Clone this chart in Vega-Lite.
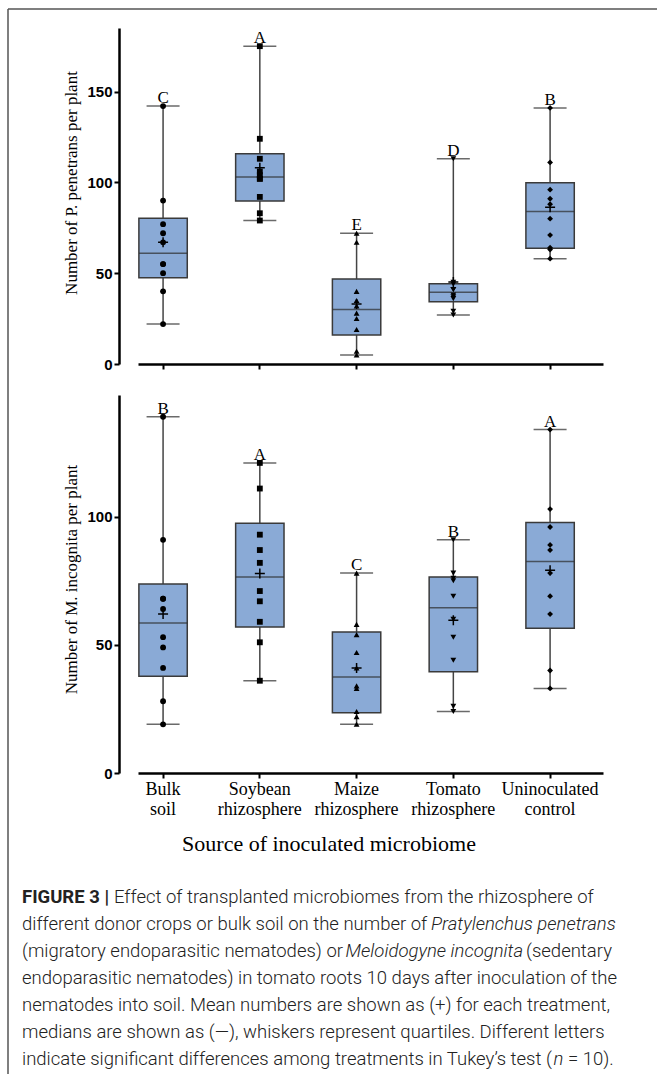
{
  "$schema": "https://vega.github.io/schema/vega-lite/v6.json",
  "width": 649,
  "height": 1065,
  "autosize": {"type": "none"},
  "padding": {"left": 8, "top": 9, "right": 0, "bottom": 0},
  "background": "white",
  "config": {
    "view": {"stroke": null},
    "axis": {"grid": false, "domainColor": "#000", "domainWidth": 2.5, "tickColor": "#000", "tickWidth": 2, "tickSize": 5, "labelColor": "#000", "titleColor": "#000"}
  },
  "datasets": {
    "statsP": [
      {"group": "Bulk soil", "min": 22, "q1": 47.5, "median": 61, "q3": 80.25, "max": 142, "mean": 67, "letter": "C"},
      {"group": "Soybean rhizosphere", "min": 79, "q1": 89.75, "median": 103, "q3": 115.75, "max": 175, "mean": 108, "letter": "A"},
      {"group": "Maize rhizosphere", "min": 5, "q1": 16, "median": 30, "q3": 46.75, "max": 72, "mean": 33, "letter": "E"},
      {"group": "Tomato rhizosphere", "min": 27, "q1": 34.25, "median": 39.5, "q3": 44.25, "max": 113, "mean": 45.1, "letter": "D"},
      {"group": "Uninoculated control", "min": 58, "q1": 63.75, "median": 84, "q3": 99.75, "max": 141, "mean": 86.3, "letter": "B"}
    ],
    "statsM": [
      {"group": "Bulk soil", "min": 19, "q1": 37.75, "median": 58.5, "q3": 73.75, "max": 139, "mean": 62, "letter": "B"},
      {"group": "Soybean rhizosphere", "min": 36, "q1": 57, "median": 76.5, "q3": 97.5, "max": 121, "mean": 77.8, "letter": "A"},
      {"group": "Maize rhizosphere", "min": 19, "q1": 23.5, "median": 37.5, "q3": 55, "max": 78, "mean": 41, "letter": "C"},
      {"group": "Tomato rhizosphere", "min": 24, "q1": 39.5, "median": 64.5, "q3": 76.5, "max": 91, "mean": 59.6, "letter": "B"},
      {"group": "Uninoculated control", "min": 33, "q1": 56.5, "median": 82.5, "q3": 97.75, "max": 134, "mean": 79.1, "letter": "A"}
    ],
    "ptsP": [
      {"group": "Bulk soil", "value": 142}, {"group": "Bulk soil", "value": 90}, {"group": "Bulk soil", "value": 77}, {"group": "Bulk soil", "value": 72}, {"group": "Bulk soil", "value": 67},
      {"group": "Bulk soil", "value": 55}, {"group": "Bulk soil", "value": 55}, {"group": "Bulk soil", "value": 50}, {"group": "Bulk soil", "value": 40}, {"group": "Bulk soil", "value": 22},
      {"group": "Soybean rhizosphere", "value": 175}, {"group": "Soybean rhizosphere", "value": 124}, {"group": "Soybean rhizosphere", "value": 113}, {"group": "Soybean rhizosphere", "value": 106}, {"group": "Soybean rhizosphere", "value": 104},
      {"group": "Soybean rhizosphere", "value": 102}, {"group": "Soybean rhizosphere", "value": 102}, {"group": "Soybean rhizosphere", "value": 92}, {"group": "Soybean rhizosphere", "value": 83}, {"group": "Soybean rhizosphere", "value": 79},
      {"group": "Maize rhizosphere", "value": 72}, {"group": "Maize rhizosphere", "value": 67}, {"group": "Maize rhizosphere", "value": 40}, {"group": "Maize rhizosphere", "value": 35}, {"group": "Maize rhizosphere", "value": 32},
      {"group": "Maize rhizosphere", "value": 28}, {"group": "Maize rhizosphere", "value": 25}, {"group": "Maize rhizosphere", "value": 19}, {"group": "Maize rhizosphere", "value": 7}, {"group": "Maize rhizosphere", "value": 5},
      {"group": "Tomato rhizosphere", "value": 113}, {"group": "Tomato rhizosphere", "value": 45}, {"group": "Tomato rhizosphere", "value": 44}, {"group": "Tomato rhizosphere", "value": 41}, {"group": "Tomato rhizosphere", "value": 41},
      {"group": "Tomato rhizosphere", "value": 38}, {"group": "Tomato rhizosphere", "value": 37}, {"group": "Tomato rhizosphere", "value": 36}, {"group": "Tomato rhizosphere", "value": 29}, {"group": "Tomato rhizosphere", "value": 27},
      {"group": "Uninoculated control", "value": 141}, {"group": "Uninoculated control", "value": 111}, {"group": "Uninoculated control", "value": 96}, {"group": "Uninoculated control", "value": 91}, {"group": "Uninoculated control", "value": 88},
      {"group": "Uninoculated control", "value": 80}, {"group": "Uninoculated control", "value": 71}, {"group": "Uninoculated control", "value": 64}, {"group": "Uninoculated control", "value": 63}, {"group": "Uninoculated control", "value": 58}
    ],
    "ptsM": [
      {"group": "Bulk soil", "value": 139}, {"group": "Bulk soil", "value": 91}, {"group": "Bulk soil", "value": 68}, {"group": "Bulk soil", "value": 68}, {"group": "Bulk soil", "value": 64},
      {"group": "Bulk soil", "value": 53}, {"group": "Bulk soil", "value": 49}, {"group": "Bulk soil", "value": 41}, {"group": "Bulk soil", "value": 28}, {"group": "Bulk soil", "value": 19},
      {"group": "Soybean rhizosphere", "value": 121}, {"group": "Soybean rhizosphere", "value": 111}, {"group": "Soybean rhizosphere", "value": 93}, {"group": "Soybean rhizosphere", "value": 87}, {"group": "Soybean rhizosphere", "value": 82},
      {"group": "Soybean rhizosphere", "value": 71}, {"group": "Soybean rhizosphere", "value": 67}, {"group": "Soybean rhizosphere", "value": 59}, {"group": "Soybean rhizosphere", "value": 51}, {"group": "Soybean rhizosphere", "value": 36},
      {"group": "Maize rhizosphere", "value": 78}, {"group": "Maize rhizosphere", "value": 58}, {"group": "Maize rhizosphere", "value": 54}, {"group": "Maize rhizosphere", "value": 47}, {"group": "Maize rhizosphere", "value": 41},
      {"group": "Maize rhizosphere", "value": 34}, {"group": "Maize rhizosphere", "value": 33}, {"group": "Maize rhizosphere", "value": 24}, {"group": "Maize rhizosphere", "value": 22}, {"group": "Maize rhizosphere", "value": 19},
      {"group": "Tomato rhizosphere", "value": 91}, {"group": "Tomato rhizosphere", "value": 78}, {"group": "Tomato rhizosphere", "value": 76}, {"group": "Tomato rhizosphere", "value": 75}, {"group": "Tomato rhizosphere", "value": 69},
      {"group": "Tomato rhizosphere", "value": 60}, {"group": "Tomato rhizosphere", "value": 53}, {"group": "Tomato rhizosphere", "value": 44}, {"group": "Tomato rhizosphere", "value": 26}, {"group": "Tomato rhizosphere", "value": 24},
      {"group": "Uninoculated control", "value": 134}, {"group": "Uninoculated control", "value": 103}, {"group": "Uninoculated control", "value": 96}, {"group": "Uninoculated control", "value": 89}, {"group": "Uninoculated control", "value": 87},
      {"group": "Uninoculated control", "value": 78}, {"group": "Uninoculated control", "value": 69}, {"group": "Uninoculated control", "value": 62}, {"group": "Uninoculated control", "value": 40}, {"group": "Uninoculated control", "value": 33}
    ],
    "capHead": [{"line": 1, "text": "FIGURE 3 |"}],
    "capL1": [{"line": 1, "text": "Effect of transplanted microbiomes from the rhizosphere of"}],
    "capRest": [
      {"line": 2, "text": "different donor crops or bulk soil on the number of"},
      {"line": 3, "text": "(migratory endoparasitic nematodes) or"},
      {"line": 4, "text": "endoparasitic nematodes) in tomato roots 10 days after inoculation of the"},
      {"line": 5, "text": "nematodes into soil. Mean numbers are shown as (+) for each treatment,"},
      {"line": 6, "text": "medians are shown as (—), whiskers represent quartiles. Different letters"},
      {"line": 7, "text": "indicate significant differences among treatments in Tukey’s test ("}
    ],
    "capIt2": [{"line": 2, "text": "Pratylenchus penetrans"}],
    "capIt3": [{"line": 3, "text": "Meloidogyne incognita"}],
    "capTail3": [{"line": 3, "text": "(sedentary"}],
    "capIt7": [{"line": 7, "text": "n"}],
    "capTail7": [{"line": 7, "text": "= 10)."}]
  },
  "layer": [
    {
      "data": {"values": [{}]},
      "layer": [
        {"mark": {"type": "rule", "color": "#555", "strokeWidth": 1.5},
         "encoding": {"x": {"datum": 0, "type": "quantitative", "scale": {"domain": [0, 1]}, "axis": null}}},
        {"mark": {"type": "rule", "color": "#555", "strokeWidth": 1.5},
         "encoding": {"y": {"datum": 1, "type": "quantitative", "scale": {"domain": [0, 1]}, "axis": null}}}
      ]
    },
    {
      "data": {"name": "statsP"},
      "encoding": {
        "x": {"field": "group", "type": "nominal",
              "scale": {"domain": ["Bulk soil", "Soybean rhizosphere", "Maize rhizosphere", "Tomato rhizosphere", "Uninoculated control"], "range": [130, 595], "paddingInner": 0.5, "paddingOuter": 0.153, "align": 0.03},
              "axis": {"orient": "bottom", "offset": -710, "labels": false, "title": null}}
      },
      "layer": [
        {"mark": {"type": "rule", "color": "#444", "strokeWidth": 1.5},
         "encoding": {
           "y": {"field": "min", "type": "quantitative", "scale": {"domain": [0, 185], "range": [355, 19], "nice": false, "zero": true},
                 "axis": {"orient": "left", "offset": -111, "values": [0, 50, 100, 150], "title": "Number of P. penetrans per plant", "titleFont": "Liberation Serif", "titleFontSize": 17, "titleFontWeight": "normal", "titleY": 173.5, "titlePadding": 6, "labelFont": "Liberation Sans", "labelFontWeight": "bold", "labelFontSize": 15, "labelPadding": 2}},
           "y2": {"field": "max"}}},
        {"mark": {"type": "bar", "fill": "#8aaad6", "stroke": "#3a3a3a", "strokeWidth": 1.5},
         "encoding": {"y": {"field": "q1", "type": "quantitative"}, "y2": {"field": "q3"}}},
        {"mark": {"type": "tick", "color": "#2b2b2b", "thickness": 1.5, "size": 48},
         "encoding": {"y": {"field": "median", "type": "quantitative"}}},
        {"mark": {"type": "tick", "color": "#2b2b2b", "thickness": 1.5, "size": 33},
         "encoding": {"y": {"field": "min", "type": "quantitative"}}},
        {"mark": {"type": "tick", "color": "#2b2b2b", "thickness": 1.5, "size": 33},
         "encoding": {"y": {"field": "max", "type": "quantitative"}}},
        {"data": {"name": "ptsP"},
         "mark": {"type": "point", "filled": true, "color": "#000", "size": 34, "opacity": 1},
         "encoding": {"y": {"field": "value", "type": "quantitative"},
                      "shape": {"field": "group", "type": "nominal", "scale": {"domain": ["Bulk soil", "Soybean rhizosphere", "Maize rhizosphere", "Tomato rhizosphere", "Uninoculated control"], "range": ["circle", "square", "triangle-up", "triangle-down", "diamond"]}, "legend": null}}},
        {"mark": {"type": "point", "shape": "M-1,0H1M0,-1V1", "filled": false, "stroke": "#000", "strokeWidth": 1.5, "size": 100, "opacity": 1},
         "encoding": {"y": {"field": "mean", "type": "quantitative"}}},
        {"mark": {"type": "text", "font": "Liberation Serif", "fontSize": 17, "baseline": "alphabetic", "dy": -3, "color": "#000"},
         "encoding": {"y": {"field": "max", "type": "quantitative"}, "text": {"field": "letter"}}}
      ]
    },
    {
      "data": {"name": "statsM"},
      "encoding": {
        "x": {"field": "group", "type": "nominal",
              "scale": {"domain": ["Bulk soil", "Soybean rhizosphere", "Maize rhizosphere", "Tomato rhizosphere", "Uninoculated control"], "range": [130, 595], "paddingInner": 0.5, "paddingOuter": 0.153, "align": 0.03},
              "axis": {"orient": "bottom", "offset": -301, "labelExpr": "split(datum.label, ' ')", "labelAngle": 0, "labelFont": "Liberation Serif", "labelFontSize": 18, "labelLineHeight": 20, "labelPadding": 2,
                       "title": "Source of inoculated microbiome", "titleFont": "Liberation Serif", "titleFontSize": 22, "titleFontWeight": "normal", "titleX": 320.5, "titlePadding": 15}}
      },
      "layer": [
        {"mark": {"type": "rule", "color": "#444", "strokeWidth": 1.5},
         "encoding": {
           "y": {"field": "min", "type": "quantitative", "scale": {"domain": [0, 147.5], "range": [764, 386], "nice": false, "zero": true},
                 "axis": {"orient": "left", "offset": -111, "values": [0, 50, 100], "title": "Number of M. incognita per plant", "titleFont": "Liberation Serif", "titleFontSize": 17, "titleFontWeight": "normal", "titleY": 570, "titlePadding": 6, "labelFont": "Liberation Sans", "labelFontWeight": "bold", "labelFontSize": 15, "labelPadding": 2}},
           "y2": {"field": "max"}}},
        {"mark": {"type": "bar", "fill": "#8aaad6", "stroke": "#3a3a3a", "strokeWidth": 1.5},
         "encoding": {"y": {"field": "q1", "type": "quantitative"}, "y2": {"field": "q3"}}},
        {"mark": {"type": "tick", "color": "#2b2b2b", "thickness": 1.5, "size": 48},
         "encoding": {"y": {"field": "median", "type": "quantitative"}}},
        {"mark": {"type": "tick", "color": "#2b2b2b", "thickness": 1.5, "size": 33},
         "encoding": {"y": {"field": "min", "type": "quantitative"}}},
        {"mark": {"type": "tick", "color": "#2b2b2b", "thickness": 1.5, "size": 33},
         "encoding": {"y": {"field": "max", "type": "quantitative"}}},
        {"data": {"name": "ptsM"},
         "mark": {"type": "point", "filled": true, "color": "#000", "size": 34, "opacity": 1},
         "encoding": {"y": {"field": "value", "type": "quantitative"},
                      "shape": {"field": "group", "type": "nominal", "scale": {"domain": ["Bulk soil", "Soybean rhizosphere", "Maize rhizosphere", "Tomato rhizosphere", "Uninoculated control"], "range": ["circle", "square", "triangle-up", "triangle-down", "diamond"]}, "legend": null}}},
        {"mark": {"type": "point", "shape": "M-1,0H1M0,-1V1", "filled": false, "stroke": "#000", "strokeWidth": 1.5, "size": 100, "opacity": 1},
         "encoding": {"y": {"field": "mean", "type": "quantitative"}}},
        {"mark": {"type": "text", "font": "Liberation Serif", "fontSize": 17, "baseline": "alphabetic", "dy": -3, "color": "#000"},
         "encoding": {"y": {"field": "max", "type": "quantitative"}, "text": {"field": "letter"}}}
      ]
    },
    {
      "encoding": {
        "x": {"datum": 0, "type": "quantitative", "scale": {"domain": [0, 1], "range": [14, 614]}, "axis": null},
        "y": {"field": "line", "type": "quantitative", "scale": {"domain": [1, 7], "range": [894, 1056]}, "axis": null},
        "text": {"field": "text"}
      },
      "layer": [
        {"data": {"name": "capHead"},
         "mark": {"type": "text", "align": "left", "baseline": "alphabetic", "font": "Roboto", "fontWeight": "bold", "fontSize": 18.5, "color": "#222"}},
        {"data": {"name": "capL1"},
         "mark": {"type": "text", "align": "left", "baseline": "alphabetic", "font": "Roboto", "fontWeight": 300, "fontSize": 18.5, "color": "#222", "dx": 92}},
        {"data": {"name": "capRest"},
         "mark": {"type": "text", "align": "left", "baseline": "alphabetic", "font": "Roboto", "fontWeight": 300, "fontSize": 18.5, "color": "#222"}},
        {"data": {"name": "capIt2"},
         "mark": {"type": "text", "align": "left", "baseline": "alphabetic", "font": "Roboto", "fontWeight": 300, "fontStyle": "italic", "fontSize": 18.5, "color": "#222", "dx": 409}},
        {"data": {"name": "capIt3"},
         "mark": {"type": "text", "align": "left", "baseline": "alphabetic", "font": "Roboto", "fontWeight": 300, "fontStyle": "italic", "fontSize": 18.5, "color": "#222", "dx": 323.5}},
        {"data": {"name": "capTail3"},
         "mark": {"type": "text", "align": "left", "baseline": "alphabetic", "font": "Roboto", "fontWeight": 300, "fontSize": 18.5, "color": "#222", "dx": 504}},
        {"data": {"name": "capIt7"},
         "mark": {"type": "text", "align": "left", "baseline": "alphabetic", "font": "Roboto", "fontWeight": 300, "fontStyle": "italic", "fontSize": 18.5, "color": "#222", "dx": 531.5}},
        {"data": {"name": "capTail7"},
         "mark": {"type": "text", "align": "left", "baseline": "alphabetic", "font": "Roboto", "fontWeight": 300, "fontSize": 18.5, "color": "#222", "dx": 546}}
      ]
    }
  ],
  "resolve": {"scale": {"x": "independent", "y": "independent"}, "axis": {"x": "independent", "y": "independent"}}
}
